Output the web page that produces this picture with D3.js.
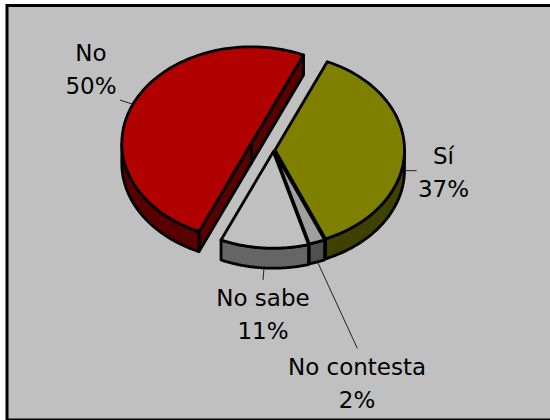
<!DOCTYPE html>
<html><head><meta charset="utf-8">
<script src="https://cdn.jsdelivr.net/npm/d3@7"></script>
<style>html,body{margin:0;padding:0;background:#fff}svg{display:block}</style>
</head><body><svg id="c" width="550" height="420"></svg>
<script>
const categories = ["Sí","No contesta","No sabe","No"];
const values = [37,2,11,50];
const topColors = ["#808000","#a0a0a0","#c0c0c0","#b00000"];
const wallColors = ["#404000","#505050","#656565","#580000"];
const labelLines = [["Sí","37%"],["No contesta","2%"],["No sabe","11%"],["No","50%"]];

const svg = d3.select("#c");
svg.append("rect").attr("x",7).attr("y",5.5).attr("width",560).attr("height",414.5)
  .attr("fill","#c0c0c0").attr("stroke","#000").attr("stroke-width",3);

const cx=275, cy=150, rx=129.5, ry=96.5, depth=20, sw=2.8;
const offsets=[[0,0],[-1,1],[-1.7,1.7],[-23.7,-6.7]];
const startDeg=23.8;
const pie=d3.pie().sort(null).startAngle(startDeg*Math.PI/180).endAngle((startDeg+360)*Math.PI/180);
const arcs=pie(values);
const line=d3.line();
const pt=(a,o,dy=0)=>[cx+o[0]+rx*Math.sin(a), cy+o[1]-ry*Math.cos(a)+dy];
const rim=(a0,a1,o,dy=0)=>d3.range(0,61).map(i=>pt(a0+(a1-a0)*i/60,o,dy));
const apex=(o,dy=0)=>[cx+o[0],cy+o[1]+dy];
const g=svg.append("g").attr("stroke","#000").attr("stroke-width",sw).attr("stroke-linejoin","round");

function wall(i,a0,a1,o){
  const top=rim(a0,a1,o), bot=rim(a1,a0,o,depth);
  g.append("path").attr("d",line(top.concat(bot))+"Z").attr("fill",wallColors[i]);
}
function face(i,a,o){
  g.append("path").attr("d",line([apex(o),pt(a,o),pt(a,o,depth),apex(o,depth)])+"Z").attr("fill",wallColors[i]);
}
const order=[3,0,1,2];
order.forEach(i=>{
  const d=arcs[i],o=offsets[i];
  const a0=d.startAngle,a1=d.endAngle;
  if(i===3){
    face(i,a1,o);
    face(i,a0,o);
    wall(i,a0,Math.min(a1,Math.PI*1.5),o);
  } else if(i===0){
    wall(i,Math.PI/2,a1,o);
  } else {
    wall(i,a0,a1,o);
  }
});
order.forEach(i=>{
  const d=arcs[i],o=offsets[i];
  g.append("path").attr("d",line([apex(o)].concat(rim(d.startAngle,d.endAngle,o)))+"Z").attr("fill",topColors[i]);
});

const leaderSegs=[[[404,170.7],[416.7,170.7]],[[318,263],[357.3,348.3]],[[264,268],[263,280]],[[132,104],[120,100]]];
leaderSegs.forEach(s=>{
  svg.append("path").attr("d",line(s)).attr("stroke","#222").attr("stroke-width",1).attr("fill","none");
});

const labelPos=[[443.5,164],[357,375],[263,306],[91,61]];
labelLines.forEach((ls,i)=>{
  const t=svg.append("text").attr("text-anchor","middle")
    .attr("font-family","DejaVu Sans").attr("font-size",23).attr("fill","#000");
  ls.forEach((s,j)=>t.append("tspan").attr("x",labelPos[i][0]).attr("y",labelPos[i][1]+j*32.7).text(s));
});
</script></body></html>
